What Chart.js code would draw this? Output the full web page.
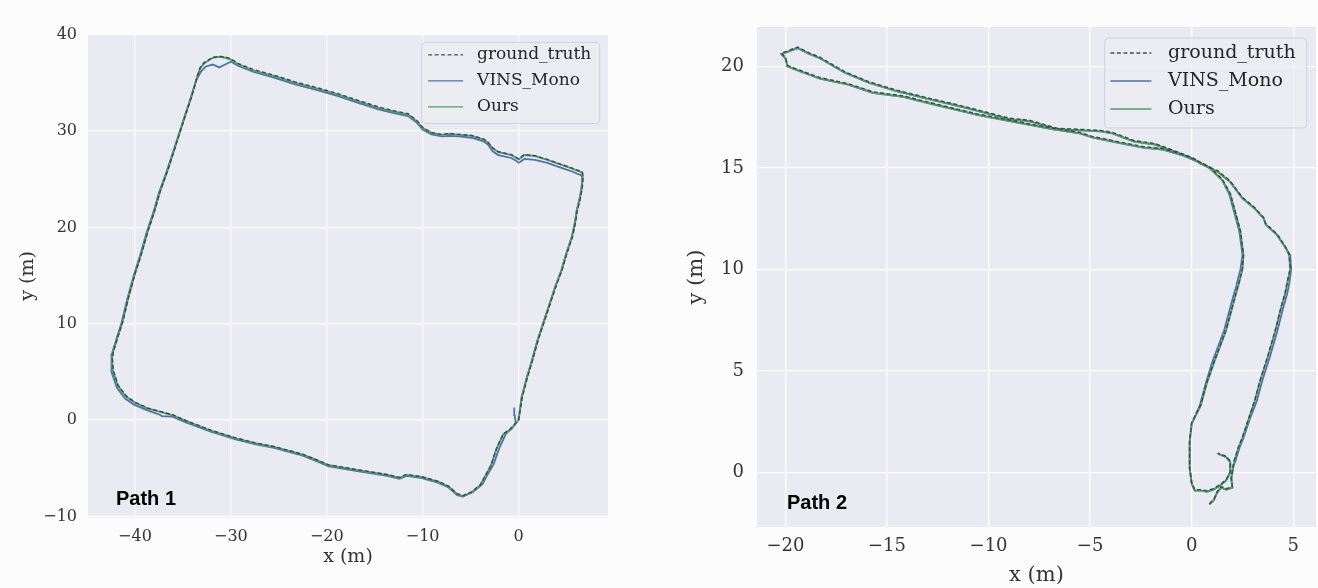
<!DOCTYPE html>
<html>
<head>
<meta charset="utf-8">
<script src="https://cdn.jsdelivr.net/npm/chart.js@4/dist/chart.umd.min.js"></script>
<style>
  body { margin: 0; background: #fcfcfc; }
  #wrap { position: relative; width: 1318px; height: 588px; }
  canvas { position: absolute; top: 0; }
</style>
</head>
<body>
<div id="wrap">
  <canvas id="path1" width="659" height="588" style="left:0"></canvas>
  <canvas id="path2" width="659" height="588" style="left:659px"></canvas>
</div>
<script>
// nombres de las series y ticks
const seriesNames = ['ground_truth', 'VINS_Mono', 'Ours'];
const xTicks1 = [-40, -30, -20, -10, 0];
const yTicks1 = [-10, 0, 10, 20, 30, 40];
const xTicks2 = [-20, -15, -10, -5, 0, 5];
const yTicks2 = [0, 5, 10, 15, 20];

// Path 1: puntos [x, y] en metros
const p1Ours = [
  [0.0,0.0],[0.35,2.4],[0.9,4.5],[1.45,6.3],[2.0,8.3],[2.5,9.8],[3.0,11.3],[3.4,12.5],[3.9,14.0],[4.5,15.6],
  [5.0,17.3],[5.6,19.1],[5.9,20.5],[6.1,21.8],[6.4,23.0],[6.6,24.1],[6.7,25.3],[6.6,25.7],
  [5.6,26.1],[4.7,26.4],[3.0,27.0],[1.7,27.4],[0.6,27.5],[0.25,27.2],[0.0,27.05],[-0.3,27.25],[-0.75,27.5],
  [-2.1,27.8],[-2.7,28.2],[-3.2,28.8],[-3.6,29.1],[-4.9,29.5],[-6.2,29.6],[-7.2,29.7],[-8.0,29.6],[-9.1,29.8],
  [-10.0,30.3],[-10.6,31.0],[-11.5,31.7],[-13.0,32.0],[-14.6,32.4],[-16.8,33.1],[-18.9,33.8],[-21.0,34.4],
  [-23.3,35.0],[-25.5,35.7],[-27.7,36.3],[-29.2,36.9],[-30.0,37.4],[-30.6,37.6],[-31.2,37.7],[-31.9,37.6],
  [-32.8,37.0],[-33.2,36.5],[-33.5,35.7],[-34.1,33.6],[-34.7,31.8],[-35.8,28.4],[-36.6,25.9],[-37.4,23.7],
  [-38.0,21.6],[-38.7,19.5],[-39.3,17.4],[-40.0,15.2],[-40.7,12.7],[-41.3,10.2],[-41.9,8.3],[-42.3,7.0],
  [-42.4,6.3],[-42.3,5.1],[-41.8,3.6],[-41.3,2.9],[-40.9,2.4],[-40.0,1.8],[-38.7,1.2],[-37.4,0.85],[-36.1,0.5],
  [-34.7,-0.1],[-32.1,-1.1],[-29.5,-1.9],[-27.5,-2.4],[-25.5,-2.8],[-22.5,-3.6],[-21.0,-4.2],[-19.8,-4.7],
  [-16.8,-5.2],[-13.7,-5.7],[-12.4,-6.0],[-11.7,-5.7],[-10.2,-5.9],[-8.4,-6.4],[-7.3,-6.9],[-6.4,-7.7],
  [-5.8,-7.9],[-4.9,-7.5],[-4.0,-6.8],[-3.4,-5.7],[-2.9,-4.8],[-2.3,-3.0],[-1.6,-1.5],[-0.9,-1.0],[-0.4,-0.5],[0.0,0.0]
];
const p1Vins = [
  [0.0,0.0],[0.3,2.3],[0.85,4.4],[1.4,6.2],[1.95,8.2],[2.45,9.7],[2.95,11.2],[3.35,12.4],[3.85,13.9],[4.45,15.5],
  [4.95,17.2],[5.55,19.0],[5.85,20.4],[6.05,21.7],[6.35,22.9],[6.55,24.0],[6.65,25.1],[6.55,25.4],
  [5.6,25.8],[4.7,26.1],[3.0,26.7],[1.7,27.0],[0.6,27.1],[0.2,26.8],[0.0,26.7],[-0.3,26.95],[-0.75,27.2],
  [-2.1,27.5],[-2.7,27.9],[-3.2,28.6],[-3.6,28.9],[-4.9,29.3],[-6.2,29.45],[-7.2,29.5],[-8.0,29.45],[-9.1,29.65],
  [-10.0,30.15],[-10.6,30.85],[-11.5,31.55],[-13.0,31.85],[-14.6,32.25],[-16.8,32.95],[-18.9,33.65],[-21.0,34.25],
  [-23.3,34.85],[-25.5,35.55],[-27.7,36.15],[-29.2,36.75],[-30.0,37.2],[-30.6,36.9],[-31.2,36.6],[-31.9,36.9],
  [-32.6,36.7],[-33.1,36.2],[-33.6,35.3],[-34.2,33.4],[-34.8,31.6],[-35.9,28.2],[-36.7,25.8],[-37.5,23.6],
  [-38.1,21.5],[-38.8,19.4],[-39.4,17.3],[-40.1,15.1],[-40.8,12.6],[-41.4,10.1],[-42.0,8.2],[-42.4,6.9],
  [-42.5,6.2],[-42.4,5.0],[-41.9,3.4],[-41.4,2.7],[-41.0,2.2],[-40.1,1.6],[-38.7,1.0],[-37.4,0.55],[-37.2,0.4],
  [-36.1,0.35],[-34.7,-0.25],[-32.1,-1.2],[-29.5,-2.0],[-27.5,-2.5],[-25.5,-2.9],[-22.5,-3.7],[-21.0,-4.3],[-19.8,-4.8],
  [-16.8,-5.3],[-13.7,-5.8],[-12.4,-6.1],[-11.7,-5.8],[-10.2,-6.0],[-8.4,-6.5],[-7.3,-7.0],[-6.4,-7.8],
  [-5.8,-7.95],[-4.8,-7.5],[-3.8,-6.7],[-3.2,-5.6],[-2.6,-4.6],[-2.0,-2.9],[-1.3,-1.4],[-0.7,-0.9],[-0.3,-0.3],
  [-0.4,0.5],[-0.45,1.3]
];
const p1Truth = [
  [0.0,0.0],[0.4,2.4],[0.95,4.5],[1.5,6.3],[2.05,8.3],[2.55,9.8],[3.05,11.3],[3.45,12.5],[3.95,14.0],[4.55,15.6],
  [5.05,17.3],[5.65,19.1],[5.95,20.5],[6.15,21.8],[6.45,23.0],[6.65,24.1],[6.75,25.3],[6.65,25.75],
  [5.6,26.15],[4.7,26.45],[3.0,27.05],[1.7,27.45],[0.6,27.55],[0.25,27.3],[0.0,27.1],[-0.3,27.3],[-0.75,27.55],
  [-2.1,27.85],[-2.7,28.25],[-3.2,28.85],[-3.6,29.15],[-4.9,29.55],[-6.2,29.65],[-7.2,29.75],[-8.0,29.65],[-9.1,29.85],
  [-10.0,30.4],[-10.6,31.1],[-11.5,31.8],[-13.0,32.1],[-14.6,32.5],[-16.8,33.2],[-18.9,33.9],[-21.0,34.5],
  [-23.3,35.1],[-25.5,35.8],[-27.7,36.4],[-29.2,37.0],[-30.0,37.5],[-30.6,37.7],[-31.2,37.75],[-31.9,37.65],
  [-32.8,37.1],[-33.2,36.6],[-33.45,35.8],[-34.05,33.7],[-34.65,31.9],[-35.75,28.5],[-36.55,26.0],[-37.35,23.8],
  [-37.95,21.7],[-38.65,19.6],[-39.25,17.5],[-39.95,15.3],[-40.65,12.8],[-41.25,10.3],[-41.85,8.4],[-42.25,7.1],
  [-42.35,6.3],[-42.25,5.1],[-41.75,3.6],[-41.25,2.95],[-40.85,2.45],[-40.0,1.85],[-38.7,1.25],[-37.4,0.9],[-36.1,0.55],
  [-34.7,-0.05],[-32.1,-1.05],[-29.5,-1.85],[-27.5,-2.35],[-25.5,-2.75],[-22.5,-3.55],[-21.0,-4.15],[-19.8,-4.65],
  [-16.8,-5.15],[-13.7,-5.65],[-12.4,-5.95],[-11.7,-5.65],[-10.2,-5.85],[-8.4,-6.35],[-7.3,-6.85],[-6.4,-7.65],
  [-5.8,-7.85],[-4.9,-7.45],[-4.0,-6.75],[-3.4,-5.65],[-2.9,-4.75],[-2.3,-2.95],[-1.6,-1.45],[-0.9,-0.95],[-0.4,-0.45],[0.0,0.0]
];

// Path 2: puntos [x, y] en metros
const p2Ours = [
  [0.87,-1.57],[1.1,-1.35],[1.25,-1.0],[1.45,-0.75],[1.7,-0.85],[2.0,-0.75],[1.95,-0.3],[2.05,0.3],[2.1,0.55],
  [2.3,1.2],[2.5,1.7],[2.8,2.6],[3.1,3.5],[3.4,4.6],[3.75,5.7],[4.1,6.9],[4.4,8.1],[4.6,8.8],[4.7,9.3],[4.85,10.0],
  [4.8,10.7],[4.6,11.1],[4.2,11.7],[3.65,12.2],[3.55,12.5],[3.1,13.0],[2.5,13.5],[1.9,14.3],[1.3,14.8],[0.45,15.2],
  [0.05,15.45],[-0.6,15.7],[-1.8,16.15],[-2.85,16.3],[-3.9,16.7],[-4.5,16.8],[-5.5,16.85],[-6.6,16.9],[-8.0,17.3],
  [-9.0,17.4],[-10.5,17.8],[-11.7,18.1],[-13.0,18.4],[-14.6,18.8],[-15.9,19.2],[-17.1,19.7],[-18.3,20.4],[-18.8,20.6],
  [-19.4,20.9],[-20.2,20.6],[-20.0,20.4],[-19.9,20.0],[-19.4,19.8],[-18.3,19.4],[-16.9,19.1],[-15.7,18.7],[-14.2,18.5],
  [-12.6,18.1],[-10.5,17.6],[-8.4,17.2],[-6.8,16.9],[-5.5,16.7],[-4.9,16.5],[-3.9,16.3],[-2.4,16.0],[-1.4,15.9],
  [-0.4,15.6],[0.3,15.3],[0.87,15.0],[1.5,14.4],[1.9,13.7],[2.2,12.6],[2.4,11.85],[2.55,10.7],[2.5,10.0],[2.3,9.2],
  [2.1,8.5],[1.7,7.0],[1.4,6.2],[1.1,5.4],[0.75,4.4],[0.45,3.3],[0.0,2.4],[-0.1,1.5],[-0.1,0.2],[0.0,-0.55],
  [0.15,-0.9],[0.45,-0.9],[0.75,-0.95],[1.07,-0.85],[1.4,-0.65],[1.7,-0.4],[1.9,0.0],[1.9,0.5],[1.7,0.75],[1.28,0.93]
];
const p2Vins = [
  [0.87,-1.57],[1.1,-1.35],[1.25,-1.0],[1.45,-0.75],[1.7,-0.85],[2.0,-0.75],[1.95,-0.3],[2.05,0.3],[2.15,0.55],
  [2.35,1.2],[2.55,1.7],[2.85,2.6],[3.2,3.5],[3.5,4.6],[3.85,5.7],[4.2,6.9],[4.5,8.1],[4.7,8.8],[4.8,9.3],[4.9,10.0],
  [4.85,10.7],[4.6,11.1],[4.2,11.7],[3.65,12.2],[3.55,12.5],[3.1,13.0],[2.5,13.5],[1.9,14.3],[1.3,14.8],[0.45,15.2],
  [0.05,15.45],[-0.6,15.7],[-1.8,16.15],[-2.85,16.3],[-3.9,16.7],[-4.5,16.8],[-5.5,16.85],[-6.6,16.9],[-8.0,17.3],
  [-9.0,17.4],[-10.5,17.8],[-11.7,18.1],[-13.0,18.4],[-14.6,18.8],[-15.9,19.2],[-17.1,19.7],[-18.3,20.4],[-18.8,20.6],
  [-19.4,20.9],[-20.2,20.6],[-20.0,20.4],[-19.9,20.0],[-19.4,19.8],[-18.3,19.4],[-16.9,19.1],[-15.7,18.7],[-14.2,18.5],
  [-12.6,18.1],[-10.5,17.6],[-8.4,17.2],[-6.8,16.9],[-5.5,16.7],[-4.9,16.5],[-3.9,16.3],[-2.4,16.0],[-1.4,15.9],
  [-0.4,15.6],[0.3,15.3],[0.87,15.0],[1.5,14.4],[1.85,13.7],[2.15,12.6],[2.35,11.85],[2.5,10.7],[2.4,10.0],[2.2,9.2],
  [2.0,8.5],[1.6,7.0],[1.3,6.2],[1.0,5.4],[0.7,4.4],[0.4,3.3],[0.0,2.4],[-0.1,1.5],[-0.1,0.2],[0.0,-0.55],
  [0.15,-0.9],[0.45,-0.9],[0.75,-0.95],[1.07,-0.85],[1.4,-0.65],[1.7,-0.4],[1.9,0.0],[1.9,0.5],[1.7,0.75],[1.28,0.93]
];
const p2Truth = [
  [0.87,-1.55],[1.1,-1.3],[1.25,-0.95],[1.45,-0.7],[1.7,-0.8],[2.0,-0.7],[1.95,-0.25],[2.05,0.35],[2.1,0.6],
  [2.3,1.25],[2.5,1.75],[2.8,2.65],[3.1,3.55],[3.4,4.65],[3.75,5.75],[4.1,6.95],[4.4,8.15],[4.6,8.85],[4.7,9.35],[4.85,10.05],
  [4.8,10.75],[4.6,11.15],[4.2,11.75],[3.65,12.25],[3.55,12.55],[3.1,13.05],[2.5,13.55],[1.9,14.35],[1.3,14.85],[0.45,15.25],
  [0.05,15.5],[-0.6,15.75],[-1.8,16.2],[-2.85,16.35],[-3.9,16.75],[-4.5,16.85],[-5.5,16.9],[-6.6,16.95],[-8.0,17.35],
  [-9.0,17.45],[-10.5,17.85],[-11.7,18.15],[-13.0,18.45],[-14.6,18.85],[-15.9,19.25],[-17.1,19.75],[-18.3,20.45],[-18.8,20.65],
  [-19.4,20.95],[-20.2,20.65],[-20.0,20.45],[-19.9,20.05],[-19.4,19.85],[-18.3,19.45],[-16.9,19.15],[-15.7,18.75],[-14.2,18.55],
  [-12.6,18.15],[-10.5,17.65],[-8.4,17.25],[-6.8,16.95],[-5.5,16.75],[-4.9,16.55],[-3.9,16.35],[-2.4,16.05],[-1.4,15.95],
  [-0.4,15.65],[0.3,15.35],[0.87,15.05],[1.5,14.45],[1.9,13.75],[2.2,12.65],[2.4,11.9],[2.55,10.75],[2.5,10.05],[2.3,9.25],
  [2.1,8.55],[1.7,7.05],[1.4,6.25],[1.1,5.45],[0.75,4.45],[0.45,3.35],[0.0,2.45],[-0.1,1.55],[-0.1,0.25],[0.0,-0.5],
  [0.15,-0.85],[0.45,-0.85],[0.75,-0.9],[1.07,-0.8],[1.4,-0.6],[1.7,-0.35],[1.9,0.05],[1.9,0.55],[1.7,0.8],[1.28,0.95]
];

// estilos de cada serie
const lineStyles = [
  { color: 'rgba(60,60,70,0.9)', width: 1.4, dash: [4, 2.5], order: 0 },
  { color: '#4c72b0', width: 1.8, dash: [], order: 2 },
  { color: '#4f9f66', width: 1.9, dash: [], order: 1 }
];

const fontFamily = '"DejaVu Serif", serif';
const textColor = '#333';
const minus = v => String(v).replace('-', '\u2212');

// fondo del área de dibujo
const plotBg = {
  id: 'plotBg',
  beforeDraw(chart) {
    const { ctx, chartArea: a } = chart;
    ctx.save();
    ctx.fillStyle = '#eaeaf2';
    ctx.fillRect(a.left, a.top, a.right - a.left, a.bottom - a.top);
    ctx.restore();
  }
};

// leyenda dentro del gráfico, arriba a la derecha
const insideLegend = {
  id: 'insideLegend',
  afterDraw(chart, args, o) {
    const { ctx, chartArea: a } = chart;
    const x0 = a.right - o.marginRight - o.width;
    const y0 = a.top + o.marginTop;
    ctx.save();
    ctx.beginPath();
    ctx.roundRect(x0, y0, o.width, o.height, 4);
    ctx.fillStyle = 'rgba(236,236,243,0.85)';
    ctx.fill();
    ctx.strokeStyle = 'rgba(206,206,214,0.9)';
    ctx.lineWidth = 1;
    ctx.stroke();
    ctx.font = o.fontSize + 'px ' + fontFamily;
    ctx.textBaseline = 'middle';
    chart.data.datasets.forEach((ds, i) => {
      const y = y0 + o.firstRow + i * o.rowH;
      ctx.beginPath();
      ctx.setLineDash(ds.borderDash || []);
      ctx.strokeStyle = ds.borderColor;
      ctx.lineWidth = 1.3;
      ctx.moveTo(x0 + o.handleX, y);
      ctx.lineTo(x0 + o.handleX + o.handleLen, y);
      ctx.stroke();
      ctx.setLineDash([]);
      ctx.fillStyle = '#262626';
      ctx.fillText(ds.label, x0 + o.textX, y);
    });
    ctx.restore();
  }
};

// etiqueta "Path N"
const pathLabel = {
  id: 'pathLabel',
  afterDatasetsDraw(chart, args, o) {
    const { ctx, chartArea: a } = chart;
    ctx.save();
    ctx.font = 'bold ' + o.fontSize + 'px "Liberation Sans", Arial, sans-serif';
    ctx.fillStyle = '#000';
    ctx.textBaseline = 'middle';
    ctx.fillText(o.text, a.left + o.dx, a.bottom - o.dy);
    ctx.restore();
  }
};

function makeChart(id, series, c) {
  const datasets = series.map((pts, i) => ({
    label: seriesNames[i],
    data: pts.map(p => ({ x: p[0], y: p[1] })),
    showLine: true,
    pointRadius: 0,
    borderColor: lineStyles[i].color,
    borderWidth: lineStyles[i].width,
    borderDash: lineStyles[i].dash,
    order: lineStyles[i].order,
    tension: 0
  }));

  return new Chart(document.getElementById(id), {
    type: 'scatter',
    data: { datasets },
    plugins: [plotBg, insideLegend, pathLabel],
    options: {
      responsive: false,
      animation: false,
      layout: { padding: c.padding },
      plugins: {
        legend: { display: false },
        tooltip: { enabled: false },
        insideLegend: c.legend,
        pathLabel: c.label
      },
      scales: {
        x: {
          type: 'linear', min: c.xMin, max: c.xMax,
          afterBuildTicks: s => { s.ticks = c.xTicks.map(v => ({ value: v })); },
          afterFit: s => { s.height = c.xHeight; },
          grid: { color: '#ffffff', lineWidth: 1.3, drawTicks: false },
          border: { display: false },
          ticks: { padding: c.tickPadX, color: textColor, font: { family: fontFamily, size: c.tickSize }, callback: minus },
          title: { display: true, text: 'x (m)', color: textColor, font: { family: fontFamily, size: c.titleSize }, padding: { top: 0, bottom: c.xTitlePad } }
        },
        y: {
          type: 'linear', min: c.yMin, max: c.yMax,
          afterBuildTicks: s => { s.ticks = c.yTicks.map(v => ({ value: v })); },
          afterFit: s => { s.width = c.yWidth; },
          grid: { color: '#ffffff', lineWidth: 1.3, drawTicks: false },
          border: { display: false },
          ticks: { padding: c.tickPadY, color: textColor, font: { family: fontFamily, size: c.tickSize }, callback: minus },
          title: { display: true, text: 'y (m)', color: textColor, font: { family: fontFamily, size: c.titleSize }, padding: { top: c.yTitlePad, bottom: 0 } }
        }
      }
    }
  });
}

makeChart('path1', [p1Truth, p1Vins, p1Ours], {
  xMin: -44.9, xMax: 9.33, yMin: -10.17, yMax: 40.07,
  xTicks: xTicks1, yTicks: yTicks1,
  padding: { left: 0, top: 34, right: 51, bottom: 0 },
  yWidth: 88, xHeight: 70,
  tickSize: 16, titleSize: 19, tickPadX: 9, tickPadY: 11, xTitlePad: 19.5, yTitlePad: 16.5,
  legend: { marginRight: 8.4, marginTop: 8.4, width: 178, height: 81, firstRow: 12.5, rowH: 26,
            handleX: 6.5, handleLen: 35, textX: 55.5, fontSize: 17 },
  label: { text: 'Path 1', dx: 28, dy: 19, fontSize: 20 }
});

makeChart('path2', [p2Truth, p2Vins, p2Ours], {
  xMin: -21.4, xMax: 6.12, yMin: -2.69, yMax: 21.94,
  xTicks: xTicks2, yTicks: yTicks2,
  padding: { left: 0, top: 27, right: 2, bottom: 0 },
  yWidth: 98, xHeight: 61,
  tickSize: 18, titleSize: 21, tickPadX: 9, tickPadY: 13, xTitlePad: 0, yTitlePad: 25,
  legend: { marginRight: 9.3, marginTop: 11, width: 202, height: 90, firstRow: 15, rowH: 28,
            handleX: 5.7, handleLen: 41, textX: 63.3, fontSize: 19 },
  label: { text: 'Path 2', dx: 30, dy: 24, fontSize: 20 }
});
</script>
</body>
</html>
